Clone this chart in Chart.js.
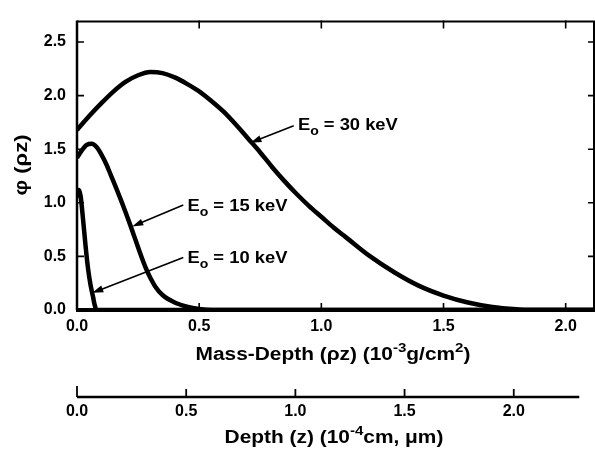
<!DOCTYPE html>
<html>
<head>
<meta charset="utf-8">
<script src="https://cdn.jsdelivr.net/npm/chart.js@4.4.0/dist/chart.umd.min.js"></script>
<style>
  html, body { margin: 0; padding: 0; background: #fff; }
</style>
</head>
<body>
<canvas id="chart" width="595" height="452"></canvas>
<script>
// phi(rho z) curves, x = mass-depth (10^-3 g/cm^2)
const massDepth30 = [0, 0.05, 0.1, 0.15, 0.2, 0.25, 0.3, 0.35, 0.4, 0.45, 0.5, 0.55, 0.6, 0.65, 0.7, 0.75, 0.8, 0.85, 0.9, 0.95, 1.0, 1.05, 1.1, 1.2, 1.3, 1.4, 1.5, 1.6, 1.7, 1.8, 1.85, 2.2];
const phi30 = [1.68, 1.81, 1.93, 2.04, 2.13, 2.19, 2.22, 2.21, 2.17, 2.11, 2.04, 1.95, 1.85, 1.73, 1.6, 1.47, 1.33, 1.2, 1.08, 0.97, 0.87, 0.77, 0.68, 0.5, 0.35, 0.225, 0.135, 0.07, 0.028, 0.006, 0, 0];

const massDepth15 = [0, 0.02, 0.04, 0.06, 0.08, 0.1, 0.12, 0.14, 0.16, 0.18, 0.2, 0.22, 0.24, 0.26, 0.28, 0.3, 0.32, 0.35, 0.4, 0.45, 0.5, 0.55, 2.2];
const phi15 = [1.42, 1.49, 1.54, 1.55, 1.52, 1.45, 1.36, 1.25, 1.14, 1.025, 0.905, 0.78, 0.65, 0.52, 0.4, 0.3, 0.22, 0.14, 0.07, 0.032, 0.01, 0, 0];

const massDepth10 = [0, 0.008, 0.015, 0.025, 0.035, 0.045, 0.055, 0.065, 0.072, 0.08, 2.2];
const phi10 = [1.05, 1.12, 1.06, 0.84, 0.6, 0.39, 0.24, 0.13, 0.05, 0, 0];

const energies = ["30", "15", "10"];
const massTickValues = [0, 0.5, 1.0, 1.5, 2.0];
const depthTickValues = [0, 0.5, 1.0, 1.5, 2.0];
const phiTickValues = [0, 0.5, 1.0, 1.5, 2.0, 2.5];
const depthAxisEnd = 2.3;

const FONT = '"Liberation Sans", Arial, Helvetica, sans-serif';
const STRETCH = 1.16;

const toPoints = (xs, ys) => xs.map((x, i) => ({ x: x, y: ys[i] }));

// draws text made of parts (normal / superscript), horizontally stretched like the scan
function drawRich(ctx, parts, cx, cy, size, stretch) {
  const big = `bold ${size}px ${FONT}`;
  const small = `bold ${Math.round(size * 0.7)}px ${FONT}`;
  let w = 0;
  for (const p of parts) {
    ctx.font = p.sup ? small : big;
    w += ctx.measureText(p.t).width;
  }
  ctx.save();
  ctx.translate(cx, cy);
  ctx.scale(stretch, 1);
  let x = -w / 2;
  ctx.textAlign = "left";
  ctx.textBaseline = "middle";
  for (const p of parts) {
    ctx.font = p.sup ? small : big;
    ctx.fillText(p.t, x, p.sup ? -size * 0.38 : 0);
    x += ctx.measureText(p.t).width;
  }
  ctx.restore();
}

function arrow(ctx, x1, y1, x2, y2) {
  const ang = Math.atan2(y2 - y1, x2 - x1);
  const len = 11, hw = 3.5;
  ctx.beginPath();
  ctx.moveTo(x1, y1);
  ctx.lineTo(x2 - Math.cos(ang) * len * 0.8, y2 - Math.sin(ang) * len * 0.8);
  ctx.lineWidth = 1.6;
  ctx.stroke();
  ctx.beginPath();
  ctx.moveTo(x2, y2);
  ctx.lineTo(x2 - Math.cos(ang) * len - Math.sin(ang) * hw, y2 - Math.sin(ang) * len + Math.cos(ang) * hw);
  ctx.lineTo(x2 - Math.cos(ang) * len + Math.sin(ang) * hw, y2 - Math.sin(ang) * len - Math.cos(ang) * hw);
  ctx.closePath();
  ctx.fill();
}

const decorations = {
  id: "decorations",
  afterDraw(chart) {
    const { ctx, chartArea: a, scales } = chart;
    const { x, y, x2 } = scales;
    ctx.save();
    ctx.strokeStyle = "#000";
    ctx.fillStyle = "#000";
    ctx.lineCap = "butt";

    // frame
    ctx.lineWidth = 2;
    ctx.beginPath();
    ctx.moveTo(a.left, a.top + 1);
    ctx.lineTo(a.right - 1, a.top + 1);
    ctx.lineTo(a.right - 1, a.bottom);
    ctx.stroke();
    ctx.lineWidth = 2.5;
    ctx.beginPath();
    ctx.moveTo(a.left, a.top);
    ctx.lineTo(a.left, a.bottom);
    ctx.stroke();
    ctx.lineWidth = 4;
    ctx.beginPath();
    ctx.moveTo(a.left - 1, a.bottom);
    ctx.lineTo(a.right, a.bottom);
    ctx.stroke();

    // inward ticks
    ctx.lineWidth = 1.6;
    for (const v of massTickValues) {
      if (v === 0) continue;
      const px = x.getPixelForValue(v);
      ctx.beginPath();
      ctx.moveTo(px, a.top); ctx.lineTo(px, a.top + 8);
      ctx.moveTo(px, a.bottom); ctx.lineTo(px, a.bottom - 7);
      ctx.stroke();
    }
    for (const v of phiTickValues) {
      if (v === 0) continue;
      const py = y.getPixelForValue(v);
      ctx.beginPath();
      ctx.moveTo(a.left, py); ctx.lineTo(a.left + 7, py);
      ctx.moveTo(a.right - 1, py); ctx.lineTo(a.right - 7, py);
      ctx.stroke();
    }

    // second (depth) axis
    const dy = x2.top + 25;
    ctx.lineWidth = 2.5;
    ctx.beginPath();
    ctx.moveTo(x2.getPixelForValue(0), dy);
    ctx.lineTo(x2.getPixelForValue(depthAxisEnd), dy);
    ctx.stroke();
    ctx.lineWidth = 1.8;
    for (const v of depthTickValues) {
      const px = x2.getPixelForValue(v);
      ctx.beginPath();
      ctx.moveTo(px, dy);
      ctx.lineTo(px, dy - (v === 0 ? 11 : 8));
      ctx.stroke();
    }

    // axis titles
    drawRich(ctx, [
      { t: "Mass-Depth (ρz) (10" }, { t: "-3", sup: true }, { t: "g/cm" }, { t: "2", sup: true }, { t: ")" }
    ], 333, 355, 18, STRETCH);
    drawRich(ctx, [
      { t: "Depth (z) (10" }, { t: "-4", sup: true }, { t: "cm, μm)" }
    ], 334, 438, 18, STRETCH);
    ctx.save();
    ctx.translate(22, 165);
    ctx.rotate(-Math.PI / 2);
    drawRich(ctx, [{ t: "φ (ρz)" }], 0, 0, 18, 1.22);
    ctx.restore();

    // curve labels with arrows (anchors in data units)
    const notes = [
      { e: energies[0], tx: 0.904, ty: 1.72, ax: 0.887, ay: 1.72, bx: 0.71, by: 1.56 },
      { e: energies[1], tx: 0.452, ty: 0.97, ax: 0.435, ay: 0.98, bx: 0.226, by: 0.78 },
      { e: energies[2], tx: 0.452, ty: 0.48, ax: 0.435, ay: 0.49, bx: 0.0625, by: 0.16 }
    ];
    for (const n of notes) {
      arrow(ctx, x.getPixelForValue(n.ax), y.getPixelForValue(n.ay), x.getPixelForValue(n.bx), y.getPixelForValue(n.by));
      const big = `bold 17px ${FONT}`;
      const small = `bold 13px ${FONT}`;
      ctx.save();
      ctx.translate(x.getPixelForValue(n.tx), y.getPixelForValue(n.ty));
      ctx.scale(1.08, 1);
      ctx.textAlign = "left";
      ctx.textBaseline = "middle";
      let px = 0;
      ctx.font = big;
      ctx.fillText("E", px, 0);
      px += ctx.measureText("E").width;
      ctx.font = small;
      ctx.fillText("o", px, 6);
      px += ctx.measureText("o").width;
      ctx.font = big;
      ctx.fillText(` = ${n.e} keV`, px, 0);
      ctx.restore();
    }
    ctx.restore();
  }
};

const tickFont = { family: FONT, size: 16, weight: "bold" };
const lineStyle = { borderColor: "#000", borderWidth: 4.5, pointRadius: 0, cubicInterpolationMode: "monotone", fill: false };

new Chart(document.getElementById("chart"), {
  type: "line",
  data: {
    datasets: [
      { label: "E0 = 30 keV", data: toPoints(massDepth30, phi30), ...lineStyle },
      { label: "E0 = 15 keV", data: toPoints(massDepth15, phi15), ...lineStyle },
      { label: "E0 = 10 keV", data: toPoints(massDepth10, phi10), ...lineStyle }
    ]
  },
  options: {
    responsive: false,
    animation: false,
    events: [],
    layout: { padding: { top: 5, right: 0, bottom: 0, left: 0 } },
    plugins: { legend: { display: false }, tooltip: { enabled: false } },
    scales: {
      x: {
        type: "linear", position: "bottom", weight: 0,
        min: 0, max: 2.12,
        grid: { display: false, drawTicks: false }, border: { display: false },
        ticks: { stepSize: 0.5, includeBounds: false, padding: 7, maxRotation: 0, color: "#000", font: tickFont, callback: (v) => v.toFixed(1) },
        afterFit: (s) => { s.height = 62; }
      },
      x2: {
        type: "linear", position: "bottom", weight: 1,
        min: 0, max: 2.372,
        grid: { display: false, drawTicks: false }, border: { display: false },
        ticks: { stepSize: 0.5, includeBounds: false, padding: 30, maxRotation: 0, color: "#000", font: tickFont, callback: (v) => v.toFixed(1) },
        afterFit: (s) => { s.height = 80; }
      },
      y: {
        type: "linear", position: "left",
        min: 0, max: 2.7,
        grid: { display: false, drawTicks: false }, border: { display: false },
        ticks: { stepSize: 0.5, includeBounds: false, padding: 11, color: "#000", font: tickFont, callback: (v) => v.toFixed(1) },
        afterFit: (s) => { s.width = 77; }
      }
    }
  },
  plugins: [decorations]
});
</script>
</body>
</html>
